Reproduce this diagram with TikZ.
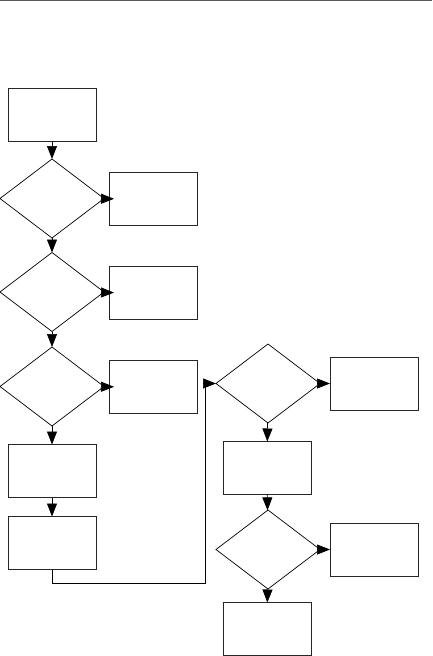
\documentclass[tikz,border=0pt]{standalone}
\usetikzlibrary{shapes.geometric,arrows.meta}
\begin{document}
\begin{tikzpicture}[x=1pt,y=-1pt,
  stepbox/.style={draw=black!85,line width=0.9pt,rectangle,minimum width=88pt,minimum height=53pt,inner sep=0pt,outer sep=0pt},
  decision/.style={draw=black,line width=0.7pt,diamond,minimum width=104pt,minimum height=79pt,inner sep=0pt,outer sep=0pt},
  flow/.style={draw=black,line width=0.7pt,-{Triangle[length=13pt,width=10pt]}},
  over/.style={shorten >=-5pt}]
\useasboundingbox (0,0) rectangle (432,656);
\draw[black!65,line width=1.2pt] (0,0.6) -- (432,0.6);
% left column
\node[stepbox] (b1) at (52,114.5) {};
\node[decision] (d1) at (52,198.5) {};
\node[stepbox] (b2) at (153,199) {};
\node[decision] (d2) at (52,292) {};
\node[stepbox] (b3) at (153,293) {};
\node[decision] (d3) at (52,386.5) {};
\node[stepbox] (b4) at (153,387) {};
\node[stepbox] (b5) at (52,471) {};
\node[stepbox] (b6) at (52,543) {};
% right column
\node[decision] (d4) at (268,383.5) {};
\node[stepbox] (b7) at (374,383.5) {};
\node[stepbox] (b8) at (267,468) {};
\node[decision] (d5) at (268,549.5) {};
\node[stepbox] (b9) at (374,549.5) {};
\node[stepbox] (b10) at (267,629) {};
\coordinate (fb) at (205,583);
% connectors
\draw[flow] (b1) -- (d1);
\draw[flow,over] (d1) -- (b2);
\draw[flow] (d1) -- (d2);
\draw[flow,over] (d2) -- (b3);
\draw[flow] (d2) -- (d3);
\draw[flow,over] (d3) -- (b4);
\draw[flow] (d3) -- (b5);
\draw[flow] (b5) -- (b6);
\draw[flow] (b6.south) |- (fb) |- (d4.west);
\draw[flow] (d4) -- (b7);
\draw[flow] (d4) -- (b8);
\draw[flow] (b8) -- (d5);
\draw[flow] (d5) -- (b9);
\draw[flow] (d5) -- (b10);
\end{tikzpicture}
\end{document}
